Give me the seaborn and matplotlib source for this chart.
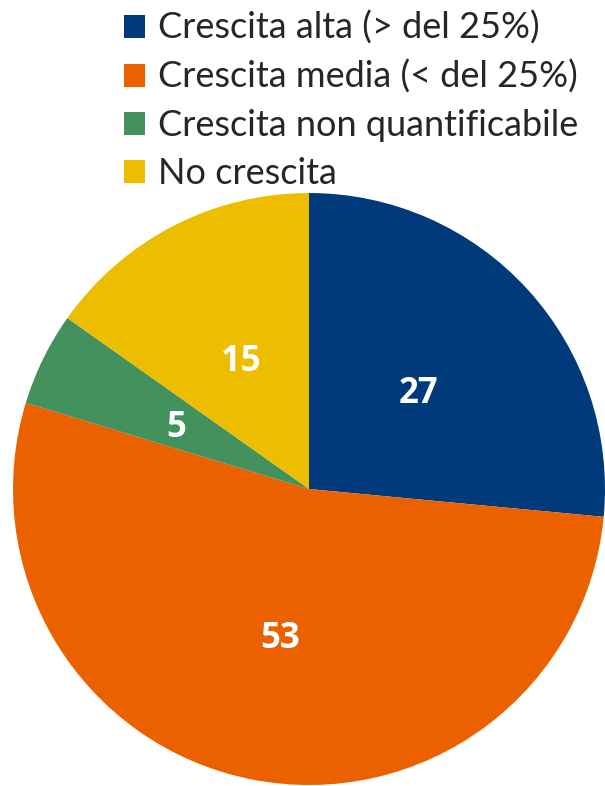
import matplotlib
matplotlib.use("Agg")
import matplotlib.pyplot as plt
import seaborn as sns
from matplotlib.patches import Patch

sns.set_theme(style="white")
plt.rcParams['font.family'] = ['Lato', 'DejaVu Sans']

categories = ["Crescita alta (> del 25%)", "Crescita media (< del 25%)",
              "Crescita non quantificabile", "No crescita"]
values = [26.5, 53.2, 5.1, 15.2]          # slice sizes
value_labels = ["27", "53", "5", "15"]    # numbers printed on the slices
colors = ["#003A7A", "#EB6100", "#43915C", "#EDBE00"]

fig = plt.figure(figsize=(6.05, 7.86), dpi=100)
ax = fig.add_axes([13/605, 1/786, 592/605, 592/786])
wedges, texts = ax.pie(
    values, colors=colors, startangle=90, counterclock=False,
    labels=value_labels, labeldistance=0.5,
    wedgeprops=dict(linewidth=0),
    textprops=dict(color="white", fontsize=25, fontweight="bold",
                   family=["Open Sans", "DejaVu Sans"]))
for t in texts:
    t.set_horizontalalignment("center")
    t.set_verticalalignment("center_baseline")
ax.set_xlim(-1, 1)
ax.set_ylim(-1, 1)
ax.set_aspect("equal")
ax.axis("off")

handles = [Patch(facecolor=c, edgecolor="none") for c in colors]
fig.legend(handles, categories, loc="upper left", bbox_to_anchor=(122/605, 1 - 9/786),
           frameon=False, fontsize=26, handlelength=0.6, handleheight=0.6,
           handletextpad=0.35, labelspacing=0.42, borderaxespad=0, borderpad=0.05)

fig.savefig("out.png", dpi=100)
